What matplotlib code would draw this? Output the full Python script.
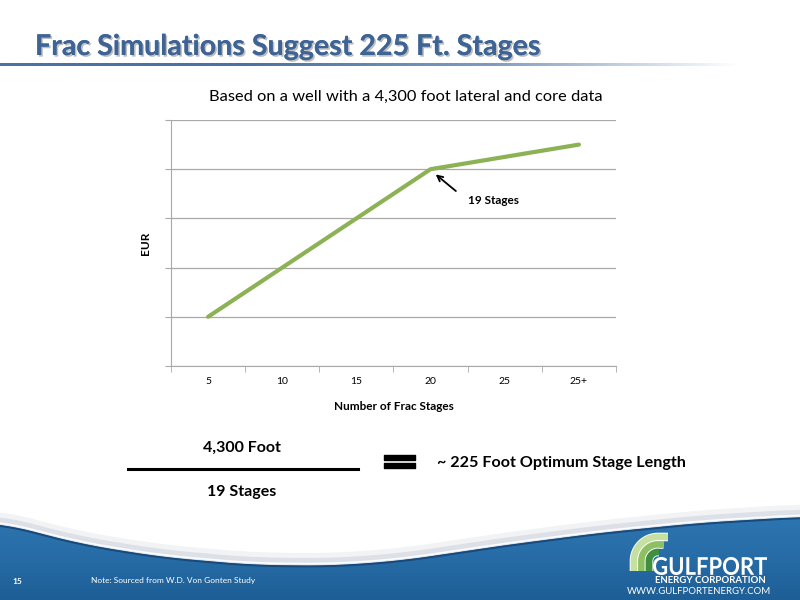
import numpy as np
import matplotlib
matplotlib.use('Agg')
import matplotlib.pyplot as plt
import matplotlib.patheffects as pe
from matplotlib.colors import LinearSegmentedColormap
from matplotlib.patches import Polygon, PathPatch
from matplotlib.textpath import TextPath
from matplotlib.font_manager import FontProperties
from matplotlib.transforms import Affine2D

plt.rcParams['font.family'] = ['Lato', 'DejaVu Sans']

# chart data
categories = ['5', '10', '15', '20', '25', '25+']
eur = [1, 2, 3, 4, 4.25, 4.5]

title = 'Frac Simulations Suggest 225 Ft. Stages'
subtitle = 'Based on a well with a 4,300 foot lateral and core data'

fig = plt.figure(figsize=(8, 6), dpi=100)
fig.patch.set_facecolor('white')

# background layer in pixel coordinates
bg = fig.add_axes([0, 0, 1, 1])
bg.set_xlim(0, 800)
bg.set_ylim(600, 0)
bg.axis('off')

# title with shadow
bg.text(35, 47, title, fontsize=20.6, fontweight='bold', color='#3e6496',
        va='center', ha='left',
        path_effects=[pe.withSimplePatchShadow(offset=(1.2, -1.2), shadow_rgbFace='#7f7f7f', alpha=0.5),
                      pe.Normal()])

# fading underline under the title
fade = LinearSegmentedColormap.from_list('fade', ['#4a72a2', '#4a72a2', '#7f9cc0', '#ffffff'])
bg.imshow(np.linspace(0, 1, 256)[None, :], cmap=fade, aspect='auto',
          extent=[0, 740, 66, 63.8], zorder=1)

# footer swoosh
fx = np.linspace(0, 800, 300)
top = np.interp(fx, [0, 80, 160, 250, 330, 400, 500, 600, 700, 800],
                [523, 544, 557, 565, 566, 561, 546, 533, 523, 517])
top = np.convolve(np.pad(top, 12, mode='edge'), np.ones(25) / 25, mode='valid')
bg.fill_between(fx, top - 12, top, color='#f2f3f5', zorder=1)
bg.fill_between(fx, top - 7, top, color='#dde1e7', zorder=1)
bg.plot(fx, top - 2, color='#fbfcfd', lw=1.2, zorder=1)
poly = Polygon(np.column_stack([np.r_[fx, 800, 0], np.r_[top, 600, 600]]),
               closed=True, facecolor='none', edgecolor='none')
bg.add_patch(poly)
blue = LinearSegmentedColormap.from_list('blue', ['#2d76b1', '#276ca6', '#1e5e96'])
im = bg.imshow(np.linspace(0, 1, 256)[:, None], cmap=blue, aspect='auto',
               extent=[0, 800, 600, 515], zorder=2)
im.set_clip_path(poly)
bg.plot(fx, top + 0.8, color='#17497a', lw=1.4, zorder=3)
bg.set_xlim(0, 800)
bg.set_ylim(600, 0)

bg.text(12, 581, '15', fontsize=6, fontweight='bold', color='white', va='center', zorder=5)
bg.text(91, 581, 'Note: Sourced from W.D. Von Gonten Study', fontsize=6,
        color='white', va='center', zorder=5)

# logo arches
cx, cy = 658, 561
for r, c in [(24, '#c6e0a2'), (16.5, '#8cc063'), (9, '#3f8f3f')]:
    t = np.linspace(0, np.pi / 2, 60)
    lx = np.concatenate([[cx - r], cx - r * np.cos(t), [cx + 10 - (24 - r) * 0.6]])
    ly = np.concatenate([[571], cy - r * np.sin(t), [cy - r]])
    bg.plot(lx, ly, color='white', lw=6.2, solid_capstyle='butt', zorder=4)
    bg.plot(lx, ly, color=c, lw=4.9, solid_capstyle='butt', zorder=4)

gp = TextPath((0, 0), 'GULFPORT', size=28, prop=FontProperties(family='Lato', weight='bold'))
ext = gp.get_extents()
sx = 114 / ext.width
sy = 18 / ext.height
gp = Affine2D().translate(-ext.x0, -ext.y0).scale(sx, -sy).translate(653, 575).transform_path(gp)
bg.add_patch(PathPatch(gp, facecolor='white', edgecolor='none', zorder=5))
bg.text(710.5, 580.5, 'ENERGY CORPORATION', fontsize=6.9, fontweight='bold',
        color='white', va='center', ha='center', zorder=5)
bg.text(698.5, 591.5, 'WWW.GULFPORTENERGY.COM', fontsize=6.9, color='white',
        va='center', ha='center', zorder=5)

# subtitle
bg.text(406, 97, subtitle, fontsize=11.8, color='black', ha='center', va='center')

# equation below the chart
bg.text(242, 448, '4,300 Foot', fontsize=11.5, fontweight='bold', ha='center', va='center')
bg.plot([128, 358], [469, 469], color='black', lw=2.2)
bg.text(242, 492, '19 Stages', fontsize=11.5, fontweight='bold', ha='center', va='center')
bg.fill_between([384, 415], 455, 459.5, color='black')
bg.fill_between([384, 415], 463, 467.5, color='black')
bg.text(437, 463, '~ 225 Foot Optimum Stage Length', fontsize=11.6,
        fontweight='bold', ha='left', va='center')

# chart
ax = fig.add_axes([171 / 800, 1 - 366 / 600, 445 / 800, 246 / 600])
ax.set_facecolor('none')
x = np.arange(len(categories))
ax.plot(x, eur, color='#8db255', lw=3, solid_capstyle='round', zorder=3)
ax.set_xlim(-0.5, len(categories) - 0.5)
ax.set_ylim(0, 5)
ax.set_yticks(range(6))
ax.set_yticklabels([])
ax.grid(axis='y', color='#a9a9a9', lw=0.9)
ax.set_axisbelow(True)
ax.set_xticks(x)
ax.set_xticklabels(categories, fontsize=7.5)
ax.set_xticks(np.arange(-0.5, len(categories)), minor=True)
ax.tick_params(axis='x', which='major', length=0, pad=8)
ax.tick_params(axis='x', which='minor', length=4, color='#a9a9a9')
ax.tick_params(axis='y', length=4, color='#a9a9a9')
for s in ['top', 'right']:
    ax.spines[s].set_visible(False)
for s in ['left', 'bottom']:
    ax.spines[s].set_color('#a9a9a9')
ax.set_xlabel('Number of Frac Stages', fontsize=8.5, fontweight='bold', labelpad=11)
ax.set_ylabel('EUR', fontsize=8.5, fontweight='bold', labelpad=7)

ax.annotate('', xy=(3.04, 3.93), xytext=(3.37, 3.52),
            arrowprops=dict(arrowstyle='->', lw=1.3, color='black'))
ax.text(3.5, 3.37, '19 Stages', fontsize=8.5, fontweight='bold', va='center')

fig.savefig('out.png', dpi=100)
